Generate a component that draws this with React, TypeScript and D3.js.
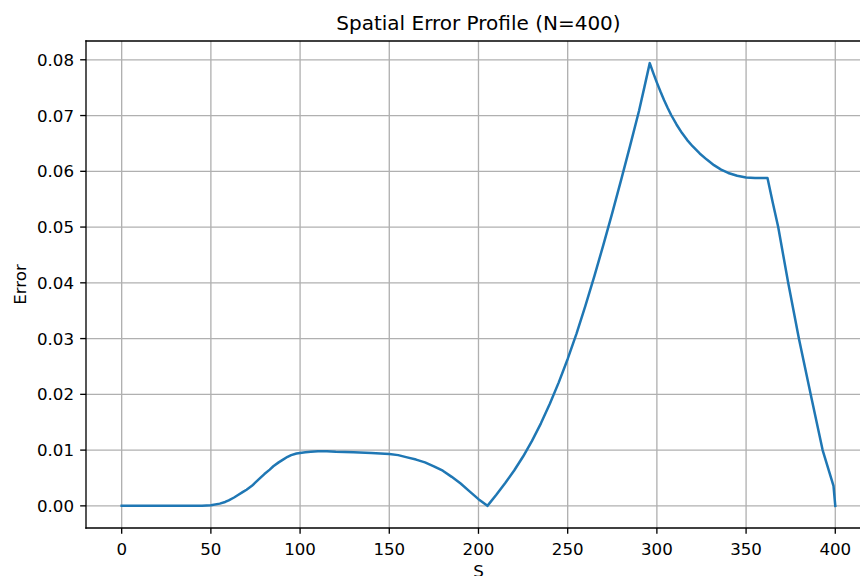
import React from "react";
import * as d3 from "d3";

const sValues: number[] = [
  0, 10, 20, 30, 40, 45, 50, 55, 58, 60, 63, 65, 68, 70, 73, 75, 78, 80, 83, 85, 88, 90, 93, 95, 98, 100, 103, 106, 110, 115, 120, 130, 140, 150,
  155, 160, 165, 170, 175, 180, 185, 190, 195, 200, 205,
  210, 215, 220, 225, 230, 235, 240, 245, 250, 255, 260, 265, 270, 275, 280, 285, 290, 293, 296,
  298, 300, 302, 304, 306, 308, 311, 314, 317, 320, 324, 328, 332, 336, 340, 345, 350, 355, 362,
  365, 368, 373.6, 379.6, 386.2, 392.9, 399, 400,
];
const errValues: number[] = [
  0, 0, 0, 0, 0, 0.00003, 0.0001, 0.0004, 0.0007, 0.001, 0.0015, 0.0019, 0.0025, 0.0029, 0.0036, 0.0042, 0.0051, 0.0057, 0.0065, 0.0071, 0.0078, 0.0082, 0.0088, 0.0091, 0.0094, 0.0095, 0.0096, 0.0097, 0.0098, 0.0098, 0.0097, 0.0096, 0.0095, 0.0093,
  0.0091, 0.0087, 0.0083, 0.0078, 0.0071, 0.0063, 0.0052, 0.004, 0.0026, 0.0012, 0.0,
  0.002, 0.0041, 0.00635, 0.00885, 0.01165, 0.0148, 0.0183, 0.02215, 0.02635, 0.03095, 0.03595, 0.04125, 0.0468, 0.05255, 0.0585, 0.0646, 0.07085, 0.0751, 0.0794,
  0.0776, 0.0759, 0.0743, 0.0728, 0.0714, 0.0701, 0.0684, 0.0669, 0.0656, 0.0645, 0.0632, 0.0621, 0.0611, 0.0603, 0.0597, 0.0592, 0.0589, 0.0588, 0.0588,
  0.0543, 0.05, 0.04, 0.03, 0.02, 0.01, 0.0036, 0,
];

const xTicks: number[] = [0, 50, 100, 150, 200, 250, 300, 350, 400];
const yTicks: number[] = [0, 0.01, 0.02, 0.03, 0.04, 0.05, 0.06, 0.07, 0.08];

const titleText = "Spatial Error Profile (N=400)";
const xLabel = "S";
const yLabel = "Error";

export default function App() {
  const W = 860;
  const H = 576;
  const left = 86;
  const top = 41;
  const bottom = 528;
  const xMin = -20, xMax = 420;
  const yMaxData = d3.max(errValues) as number;
  const yMinData = 0;
  const yPad = (yMaxData - yMinData) * 0.05;
  const right = 122 + (xMax - 0) * (835.3 - 122) / 400;

  const x = d3.scaleLinear().domain([xMin, xMax]).range([left, right]);
  const y = d3.scaleLinear().domain([yMinData - yPad, yMaxData + yPad]).range([bottom, top]);

  const data = sValues.map((s, i) => [s, errValues[i]] as [number, number]);
  const line = d3.line<[number, number]>().x((d) => x(d[0])).y((d) => y(d[1])).curve(d3.curveLinear);

  const font = "'DejaVu Sans', sans-serif";
  const gridColor = "#b0b0b0";
  const lw = 1.33;
  const tickLen = 5.83;
  const fs = 16.67;

  return (
    <svg width={W} height={H} style={{ position: "absolute", left: 0, top: 0, background: "#fff" }} fontFamily={font}>
      <rect x={0} y={0} width={W} height={H} fill="#fff" />
      {xTicks.map((t) => (
        <line key={"gx" + t} x1={x(t)} x2={x(t)} y1={top} y2={bottom} stroke={gridColor} strokeWidth={lw} />
      ))}
      {yTicks.map((t) => (
        <line key={"gy" + t} x1={left} x2={right} y1={y(t)} y2={y(t)} stroke={gridColor} strokeWidth={lw} />
      ))}
      <path d={line(data) || ""} fill="none" stroke="#1f77b4" strokeWidth={2.5} strokeLinejoin="round" strokeLinecap="square" />
      <line x1={left} x2={left} y1={top} y2={bottom} stroke="#000" strokeWidth={lw} strokeLinecap="square" />
      <line x1={left} x2={right} y1={bottom} y2={bottom} stroke="#000" strokeWidth={lw} strokeLinecap="square" />
      <line x1={left} x2={right} y1={top} y2={top} stroke="#000" strokeWidth={lw} strokeLinecap="square" />
      <line x1={right} x2={right} y1={top} y2={bottom} stroke="#000" strokeWidth={lw} />
      {xTicks.map((t) => (
        <g key={"xt" + t}>
          <line x1={x(t)} x2={x(t)} y1={bottom} y2={bottom + tickLen} stroke="#000" strokeWidth={lw} />
          <text x={x(t)} y={554.5} textAnchor="middle" fontSize={fs} fill="#000">{t}</text>
        </g>
      ))}
      {yTicks.map((t) => (
        <g key={"yt" + t}>
          <line x1={left - tickLen} x2={left} y1={y(t)} y2={y(t)} stroke="#000" strokeWidth={lw} />
          <text x={74} y={y(t)} dy="0.36em" textAnchor="end" fontSize={fs} fill="#000">{t.toFixed(2)}</text>
        </g>
      ))}
      <text x={(left + right) / 2} y={30} textAnchor="middle" fontSize={20} fill="#000">{titleText}</text>
      <text x={(left + right) / 2} y={577} textAnchor="middle" fontSize={fs} fill="#000">{xLabel}</text>
      <text transform={`translate(26, ${(top + bottom) / 2}) rotate(-90)`} textAnchor="middle" fontSize={fs} fill="#000">{yLabel}</text>
    </svg>
  );
}
